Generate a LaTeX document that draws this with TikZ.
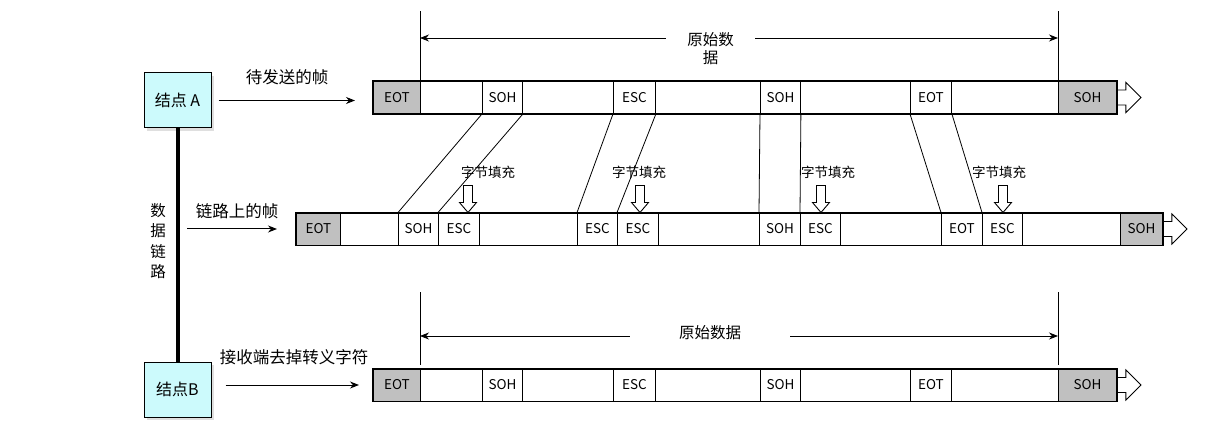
\documentclass[tikz,border=0pt]{standalone}
\usepackage{fontspec}
\setmainfont{Noto Sans CJK SC}
\usetikzlibrary{arrows.meta,shadows}
\definecolor{nodecyan}{HTML}{CCFAFC}
\definecolor{cellgray}{HTML}{C0C0C0}
\tikzset{
	cell/.style={draw,line width=0.9pt,anchor=west,minimum height=32pt,inner sep=0pt,font=\fontsize{13.5}{15}\selectfont},
	plaincell/.style={cell,fill=white},
	graycell/.style={cell,fill=cellgray},
	station/.style={draw,line width=1pt,fill=nodecyan,minimum width=67pt,minimum height=55pt,font=\fontsize{16}{18}\selectfont,drop shadow={opacity=0.25,shadow xshift=3pt,shadow yshift=-3pt}},
	lbl/.style={font=\fontsize{16.5}{18}\selectfont,inner sep=0pt},
	stufflbl/.style={font=\fontsize{13.5}{15}\selectfont,inner sep=0pt},
	dimlbl/.style={font=\fontsize{15.5}{18}\selectfont,align=center,fill=white,inner sep=0pt},
	stuffarrow/.pic={\draw[line width=0.9pt,fill=white] (-4.5,-27) -- (4.5,-27) -- (4.5,-10) -- (8.5,-10) -- (0,0) -- (-8.5,-10) -- (-4.5,-10) -- cycle;},
	outarrow/.pic={\draw[line width=0.9pt] (0,-7.5) -- (9,-7.5) -- (9,-15) -- (24,0) -- (9,15) -- (9,7.5) -- (0,7.5);}
}
\begin{document}
\begin{tikzpicture}[x=1pt,y=-1pt,>={Stealth[length=9pt,width=7pt]}]
	\useasboundingbox (0,0) rectangle (1208,422);

	\node[station] (A) at (177.5,100.5) {结点 A};
	\node[station] (B) at (177.5,389.5) {结点B};
	\draw[line width=4pt] (A.south) -- (B.north);
	\node[font=\fontsize{15.5}{20.5}\selectfont,align=center,inner sep=0pt] (link) at (158,241) {数\\据\\链\\路};

	\foreach \r/\y in {t/97.5,b/385}{
		\foreach \n/\a/\b/\t/\s in {1/373/420/EOT/graycell,2/420/482//plaincell,3/482/522/SOH/plaincell,4/522/613//plaincell,5/613/655/ESC/plaincell,6/655/760//plaincell,7/760/800/SOH/plaincell,8/800/910//plaincell,9/910/951/EOT/plaincell,10/951/1058//plaincell,11/1058/1116/SOH/graycell}{
			\pgfmathsetmacro\w{\b-\a}
			\node[\s,minimum width=\w pt] (\r\n) at (\a,\y) {\t};
		}
		\draw[line width=1.4pt] (\r1.north west) rectangle (\r11.south east);
		\pic at (\r11.east) {outarrow};
	}
	\foreach \n/\a/\b/\t/\s in {1/296/340/EOT/graycell,2/340/398//plaincell,3/398/438/SOH/plaincell,4/438/479/ESC/plaincell,5/479/577//plaincell,6/577/617/ESC/plaincell,7/617/658/ESC/plaincell,8/658/759//plaincell,9/759/800/SOH/plaincell,10/800/840/ESC/plaincell,11/840/941//plaincell,12/941/982/EOT/plaincell,13/982/1022/ESC/plaincell,14/1022/1120//plaincell,15/1120/1162/SOH/graycell}{
		\pgfmathsetmacro\w{\b-\a}
		\node[\s,minimum width=\w pt] (m\n) at (\a,229) {\t};
	}
	\draw[line width=1.4pt] (m1.north west) rectangle (m15.south east);
	\pic at (m15.east) {outarrow};

	\draw[line width=0.8pt] (t3.south west) -- (m3.north west);
	\draw[line width=0.8pt] (t3.south east) -- (m4.north west);
	\draw[line width=0.8pt] (t5.south west) -- (m6.north west);
	\draw[line width=0.8pt] (t5.south east) -- (m7.north west);
	\draw[line width=0.8pt] (t7.south west) -- (m9.north west);
	\draw[line width=0.8pt] (t7.south east) -- (m10.north west);
	\draw[line width=0.8pt] (t9.south west) -- (m12.north west);
	\draw[line width=0.8pt] (t9.south east) -- (m13.north west);

	\foreach \n/\c/\x/\l in {1/4/468/488,2/7/640/639,3/10/821/828,4/13/1003/999}{
		\node[stufflbl] (s\n) at (\l,172) {字节填充};
		\pic at (\x,212.5) {stuffarrow};
	}

	\node[lbl] (send) at (287,77) {待发送的帧};
	\draw[->,line width=1pt] ([xshift=7pt]A.east) -- ([xshift=-18pt]t1.west |- A.east);
	\node[lbl] (onlink) at (237,211) {链路上的帧};
	\draw[->,line width=1pt] ([xshift=-109pt]m1.west) -- ([xshift=-19pt]m1.west);
	\node[lbl] (recv) at (294,357) {接收端去掉转义字符};
	\draw[->,line width=1pt] ([xshift=14pt]B.east |- b1.west) -- ([xshift=-14pt]b1.west);

	\draw[line width=0.8pt] (t2.north west) -- ++(0,-70);
	\draw[line width=0.8pt] (t11.north west) -- ++(0,-70);
	\coordinate (tl) at (t2.north west |- 0,38);
	\coordinate (tr) at (t11.north west |- 0,38);
	\node[dimlbl,minimum width=89pt] (td) at (710.5,49) {原始数\\据};
	\draw[->,line width=0.8pt] (tl -| td.west) -- (tl);
	\draw[->,line width=0.8pt] (tr -| td.east) -- (tr);

	\draw[line width=0.8pt] ([yshift=4pt]b2.north west) -- ++(0,-73);
	\draw[line width=0.8pt] ([yshift=4pt]b11.north west) -- ++(0,-73);
	\coordinate (bl) at (b2.north west |- 0,336);
	\coordinate (br) at (b11.north west |- 0,336);
	\node[dimlbl,minimum width=160pt,minimum height=14pt] (bd) at (710,333) {原始数据};
	\draw[->,line width=0.8pt] (bl -| bd.west) -- (bl);
	\draw[->,line width=0.8pt] (br -| bd.east) -- (br);
\end{tikzpicture}
\end{document}
